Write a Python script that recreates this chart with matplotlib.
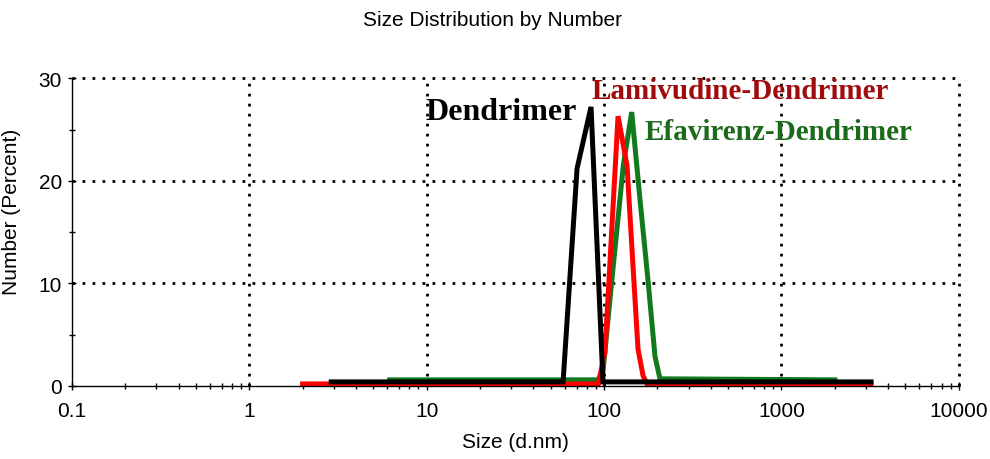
"""Size distribution by number for dendrimer formulations (DLS)."""

import matplotlib

matplotlib.use("Agg")
import matplotlib.pyplot as plt
from matplotlib.ticker import FixedLocator, LogLocator, NullFormatter


# values (size in d.nm, number in percent)
dend_size = [2.9, 58.8, 70.5, 84.5, 98.7, 3200]
dend_number = [0.4, 0.4, 21.2, 27.2, 0.4, 0.4]

lami_size = [2.0, 93.0, 94.9, 101.3, 120.0, 134.8, 145.7, 155.5, 166.0, 175.0, 3200]
lami_number = [0.2, 0.2, 1.0, 3.3, 26.3, 21.5, 11.7, 3.6, 1.0, 0.2, 0.2]

efav_size = [6.2, 92.6, 98.7, 108.1, 128.5, 143.3, 159.5, 177.5, 193.8, 206.7, 2000]
efav_number = [0.6, 0.6, 1.4, 8.5, 21.5, 26.7, 18.2, 10.1, 2.9, 0.7, 0.6]

x_ticks = [0.1, 1, 10, 100, 1000, 10000]
x_tick_labels = ["0.1", "1", "10", "100", "1000", "10000"]
y_ticks = [0, 10, 20, 30]

SANS = ["Liberation Sans", "DejaVu Sans"]
SERIF = ["Liberation Serif", "DejaVu Serif"]
DOTS = (0, (1, 2.6))


def build_figure():
    fig = plt.figure(figsize=(9.9, 4.6), dpi=100)
    ax = fig.add_axes([0.0725, 0.1587, 0.896, 0.6691])

    line_kw = dict(linewidth=3.6, solid_joinstyle="miter")
    ax.plot(efav_size, efav_number, color="#107a1c", **line_kw)
    ax.plot(lami_size, lami_number, color="#ff0000", **line_kw)
    ax.plot(dend_size, dend_number, color="black", **line_kw)

    ax.set_xscale("log")
    ax.set_xlim(0.1, 10000)
    ax.set_ylim(0, 30)
    ax.set_xticks(x_ticks)
    ax.set_xticklabels(x_tick_labels)
    ax.xaxis.set_minor_locator(LogLocator(base=10, subs=range(2, 10)))
    ax.xaxis.set_minor_formatter(NullFormatter())
    ax.set_yticks(y_ticks)
    ax.yaxis.set_minor_locator(FixedLocator([5, 15, 25]))

    ax.tick_params(which="both", direction="inout", width=1, colors="black")
    ax.tick_params(which="major", length=6)
    ax.tick_params(which="minor", length=5)
    ax.tick_params(axis="x", pad=8)
    ax.tick_params(axis="y", pad=4)
    for label in ax.get_xticklabels() + ax.get_yticklabels():
        label.set_family(SANS)
        label.set_fontsize(15)

    for side in ("top", "right"):
        ax.spines[side].set_visible(False)
    for side in ("left", "bottom"):
        ax.spines[side].set_linewidth(1)
        ax.spines[side].set_zorder(3)

    # dotted grid; the one on each solid axis line is left out
    ax.grid(True, which="major", color="black", linestyle=DOTS, linewidth=2)
    for gridline in ax.get_xgridlines() + ax.get_ygridlines():
        gridline.set_clip_on(False)
    ax.get_xgridlines()[0].set_visible(False)
    ax.get_ygridlines()[0].set_visible(False)
    ax.set_axisbelow(True)

    ax.set_xlabel("Size (d.nm)", family=SANS, fontsize=15)
    ax.xaxis.set_label_coords(0.5, -0.148)
    ax.set_ylabel("Number (Percent)", family=SANS, fontsize=15)
    ax.yaxis.set_label_coords(-0.057, 0.57)
    fig.text(0.497, 0.955, "Size Distribution by Number", family=SANS,
             fontsize=15, ha="center", va="center")

    ax.text(9.8, 26.0, "Dendrimer", family=SERIF, fontweight="bold",
            fontsize=23, color="black")
    ax.text(85.5, 28.1, "Lamivudine-Dendrimer", family=SERIF,
            fontweight="bold", fontsize=21, color="#a00c0c")
    ax.text(170, 24.1, "Efavirenz-Dendrimer", family=SERIF,
            fontweight="bold", fontsize=21, color="#1b6b1b")
    return fig


def main():
    fig = build_figure()
    fig.savefig("out.png", dpi=100, facecolor="white")


if __name__ == "__main__":
    main()
